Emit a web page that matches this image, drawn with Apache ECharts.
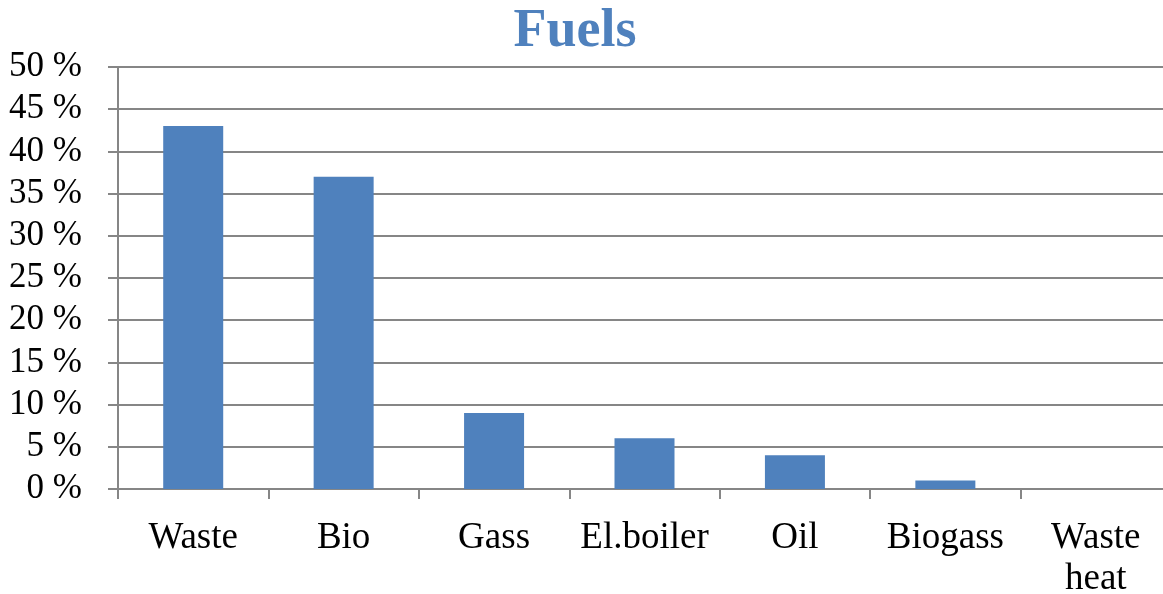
<!DOCTYPE html>
<html><head><meta charset="utf-8">
<script src="https://cdn.jsdelivr.net/npm/echarts@6/dist/echarts.min.js"></script>
<style>html,body{margin:0;padding:0;background:#fff}#c{width:1163px;height:594px}</style>
</head><body><div id="c"></div>
<script>
const categories = ['Waste', 'Bio', 'Gass', 'El.boiler', 'Oil', 'Biogass', 'Waste\nheat'];
const values = [43, 37, 9, 6, 4, 1, 0];
const titleText = 'Fuels';
const chart = echarts.init(document.getElementById('c'), null, {renderer: 'canvas'});
chart.setOption({
  animation: false,
  backgroundColor: '#ffffff',
  title: {
    text: titleText, left: 570, top: 0, textAlign: 'center',
    textStyle: {fontFamily: 'Liberation Serif', fontWeight: 'bold', fontSize: 54, color: '#4F81BD'}
  },
  grid: {left: 118, top: 67, width: 1053, height: 422, outerBoundsMode: 'none', containLabel: false},
  xAxis: {
    type: 'category', data: categories,
    axisLine: {lineStyle: {color: '#868686', width: 2}},
    axisTick: {show: true, length: 10, lineStyle: {color: '#868686', width: 2}},
    axisLabel: {fontFamily: 'Liberation Serif', fontSize: 37, color: '#000', margin: 29, lineHeight: 41, interval: 0}
  },
  yAxis: {
    type: 'value', min: 0, max: 50, interval: 5,
    axisLine: {show: true, lineStyle: {color: '#868686', width: 2}},
    axisTick: {show: true, length: 10, lineStyle: {color: '#868686', width: 2}},
    splitLine: {lineStyle: {color: '#868686', width: 2}},
    axisLabel: {fontFamily: 'Liberation Serif', fontSize: 35, color: '#000', margin: 36, formatter: v => v + ' %'}
  },
  series: [{
    type: 'bar', data: values, barWidth: 60,
    itemStyle: {color: '#4F81BD'}
  }]
});
</script></body></html>
